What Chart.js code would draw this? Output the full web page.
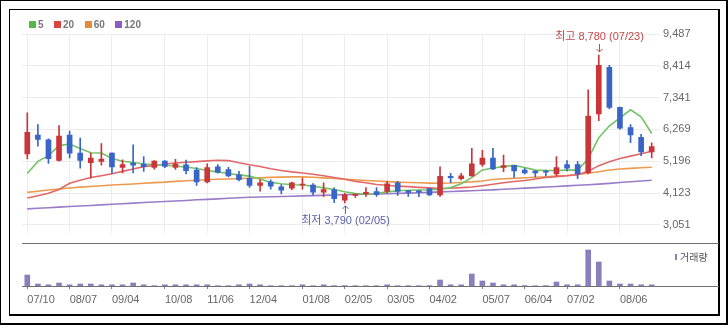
<!DOCTYPE html>
<html>
<head>
<meta charset="utf-8">
<script src="https://cdn.jsdelivr.net/npm/chart.js@4.4.1/dist/chart.umd.min.js"></script>
<style>
  body { margin: 0; background: #fff; }
  #outer { position: absolute; left: 0; top: 0; width: 728px; height: 325px; box-sizing: border-box; border: 1px solid #000; border-right-width: 2px; border-bottom-width: 2px; }
  #inner { position: absolute; left: 9px; top: 9px; width: 711px; height: 307px; box-sizing: border-box; border: 1px solid #000; border-right-width: 2px; border-bottom-width: 2px; }
  #priceBox { position: absolute; left: 10px; top: 10px; }
  #volBox { position: absolute; left: 10px; top: 243px; }
  .hline { position: absolute; left: 22px; width: 697px; height: 1px; background: #707070; }
  #legend { position: absolute; left: 29px; top: 19px; height: 11px; display: flex; align-items: center;
            font: bold 10px "Liberation Sans", Arial, sans-serif; color: #777; }
  #legend .sw { width: 7px; height: 7px; margin-right: 2px; }
  #legend .lt { margin-right: 10.5px; }
  #volLegend { position: absolute; left: 675px; top: 249px; display: flex; align-items: center;
               font: 10px "Noto Sans CJK KR", sans-serif; color: #555; }
  #volLegend .sw { width: 2px; height: 6px; background: #8a7fbd; margin-right: 3px; }
</style>
</head>
<body>
<div id="outer"></div>
<div id="inner"></div>
<div id="priceBox"><canvas id="priceChart" width="708" height="233"></canvas></div>
<div id="volBox"><canvas id="volChart" width="708" height="70"></canvas></div>
<div class="hline" style="top:243px"></div>
<div class="hline" style="top:286px"></div>
<div id="legend"></div>
<div id="volLegend"><span class="sw"></span><span>거래량</span></div>
<script>
// weekly candles, 2020/07 ~ 2021/08
const weeks = ['07/10','07/17','07/24','07/31','08/07','08/14','08/21','08/28','09/04','09/11',
  '09/18','09/25','09/29','10/08','10/16','10/23','10/30','11/06','11/13','11/20',
  '11/27','12/04','12/11','12/18','12/24','12/30','01/08','01/15','01/22','01/29',
  '02/05','02/10','02/19','02/26','03/05','03/12','03/19','03/26','04/02','04/09',
  '04/16','04/23','04/30','05/07','05/14','05/21','05/28','06/04','06/11','06/18',
  '06/25','07/02','07/09','07/16','07/23','07/30','08/06','08/13','08/20','08/27'];
const tickWeeks = ['07/10','08/07','09/04','10/08','11/06','12/04','01/08','02/05','03/05','04/02','05/07','06/04','07/02','08/06'];
const priceTicks = [3051, 4123, 5196, 6269, 7341, 8414, 9487];

const opens  = [5440,6080,5920,5220,6080,5470,5150,5190,5470,4990,5130,5100,4990,5200,4990,5070,4895,4500,5010,4915,
  4735,4620,4380,4500,4330,4285,4395,4395,4155,4230,3880,4040,4090,4170,4175,4465,4200,4195,4275,4060,
  4690,4605,4700,5090,5300,4990,5060,4895,4865,4865,4765,5080,5080,4810,6790,8360,7010,6330,6000,5510];
const highs  = [6830,6430,5950,6400,6210,5980,5470,5790,5480,5240,5750,5350,5220,5220,5260,5230,4980,5110,5080,4990,
  4855,5020,4575,4565,4410,4490,4630,4445,4465,4295,4115,4095,4305,4305,4520,4520,4210,4205,4280,5010,
  4790,4790,5630,5560,5630,5400,5060,4960,4870,4895,5350,5220,5180,7600,8780,8430,7020,6430,6100,5820];
const lows   = [5270,5700,5120,5200,5310,4960,4620,5060,4780,4800,4800,4855,4925,4980,4915,4765,4380,4465,4790,4670,
  4530,4315,4185,4250,4090,4240,4250,4060,4005,3800,3790,3975,4005,4005,4125,4040,4005,4000,4040,4005,
  4475,4565,4690,5020,4910,4845,4650,4765,4670,4700,4700,4865,4605,4765,6560,6960,6280,5820,5380,5310];
const closes = [6170,5930,5280,6040,5470,5220,5300,5270,5000,5080,5060,5010,5200,5020,5100,4875,4500,4980,4820,4700,
  4575,4380,4465,4350,4220,4465,4425,4155,4240,3930,4060,4090,4145,4070,4435,4175,4145,4150,4060,4690,
  4640,4700,5110,5300,4940,5050,4865,4800,4800,4830,4980,4960,4765,6720,8430,7010,6310,6080,5510,5690];

const ma5   = [4779,5191,5384,5722,5777,5625,5480,5474,5287,5197,5152,5101,5085,5062,5036,4998,4949,4885,4837,4779,
  4734,4692,4596,4483,4435,4402,4393,4354,4296,4242,4168,4103,4081,4103,4161,4200,4216,4225,4232,4251,
  4306,4435,4644,4901,4966,5014,5056,4982,4895,4885,4885,4895,4895,5280,5990,6390,6660,6930,6690,6130];
const ma20  = [3952,4032,4113,4242,4451,4554,4644,4708,4773,4853,4933,5014,5052,5101,5136,5159,5181,5207,5229,5217,
  5143,5078,5020,4943,4885,4837,4798,4756,4708,4644,4586,4515,4467,4412,4386,4354,4338,4315,4296,4274,
  4283,4306,4328,4370,4419,4467,4509,4547,4596,4644,4676,4708,4740,4853,5046,5175,5287,5368,5448,5529];
const ma60  = [4145,4184,4225,4258,4290,4322,4344,4370,4393,4412,4428,4451,4473,4489,4515,4538,4554,4570,4586,4596,
  4612,4621,4634,4650,4660,4666,4666,4653,4634,4612,4589,4570,4547,4531,4509,4489,4480,4467,4457,4454,
  4460,4480,4499,4531,4579,4602,4618,4637,4653,4670,4692,4715,4747,4789,4843,4901,4933,4956,4975,4991];
const ma120 = [3588,3608,3627,3646,3666,3685,3704,3723,3743,3762,3781,3801,3820,3839,3855,3871,3894,3910,3926,3945,
  3962,3978,3987,3997,4007,4016,4026,4036,4045,4055,4065,4074,4084,4094,4100,4110,4119,4132,4145,4161,
  4174,4187,4200,4216,4229,4248,4267,4287,4306,4325,4344,4364,4383,4402,4422,4447,4476,4505,4531,4554];

const volumes = [1100000,200000,120000,300000,120000,200000,200000,120000,120000,120000,300000,120000,30000,120000,120000,120000,120000,120000,30000,30000,
  120000,200000,120000,30000,30000,30000,120000,30000,120000,40000,40000,30000,30000,30000,120000,30000,30000,30000,40000,600000,
  120000,120000,1200000,500000,300000,120000,120000,40000,30000,40000,400000,120000,120000,3600000,2400000,500000,200000,200000,120000,120000];

const maNames  = ['5', '20', '60', '120'];
const maColors = ['#74c365', '#e06868', '#eb9a4f', '#9a7cc8'];
const legendColors = ['#55b949', '#d9463f', '#e48a3c', '#8c5bbf'];
const upColor = '#c9363a';
const downColor = '#3a65c8';

Chart.defaults.font.family = '"Liberation Sans", Arial, "Noto Sans CJK KR", sans-serif';
Chart.defaults.font.size = 11;
Chart.defaults.color = '#666';

const candleColors = closes.map((c, i) => c >= opens[i] ? upColor : downColor);
const isTick = (i) => tickWeeks.includes(weeks[i]);

// 최고 / 최저 표시
const markPlugin = {
    id: 'marks',
    afterDraw(chart) {
        const { ctx, scales: { x, y } } = chart;
        const hi = highs.indexOf(Math.max(...highs));
        const lo = lows.indexOf(Math.min(...lows));
        ctx.save();
        ctx.font = '11px "Liberation Sans", "Noto Sans CJK KR", sans-serif';
        ctx.textAlign = 'center';
        ctx.textBaseline = 'middle';
        ctx.lineWidth = 1;

        let px = Math.round(x.getPixelForValue(hi)) + 0.5;
        let py = y.getPixelForValue(highs[hi]);
        ctx.fillStyle = ctx.strokeStyle = '#c4484b';
        ctx.fillText('최고 ' + highs[hi].toLocaleString('en-US') + ' (' + weeks[hi] + ')', px, py - 18);
        ctx.beginPath();
        ctx.moveTo(px, py - 11); ctx.lineTo(px, py - 3);
        ctx.moveTo(px - 3, py - 6); ctx.lineTo(px, py - 3); ctx.lineTo(px + 3, py - 6);
        ctx.stroke();

        px = Math.round(x.getPixelForValue(lo)) + 0.5;
        py = y.getPixelForValue(lows[lo]);
        ctx.fillStyle = ctx.strokeStyle = '#5d60aa';
        ctx.fillText('최저 ' + lows[lo].toLocaleString('en-US') + ' (' + weeks[lo] + ')', px, py + 18);
        ctx.beginPath();
        ctx.moveTo(px, py + 3); ctx.lineTo(px, py + 11);
        ctx.moveTo(px - 3, py + 6); ctx.lineTo(px, py + 3); ctx.lineTo(px + 3, py + 6);
        ctx.stroke();
        ctx.restore();
    }
};

const maSets = [ma5, ma20, ma60, ma120].map((d, k) => ({
    type: 'line',
    label: maNames[k],
    data: d,
    borderColor: maColors[k],
    borderWidth: 1.6,
    pointRadius: 0,
    tension: 0,
    order: 3
}));

const priceChart = new Chart(document.getElementById('priceChart'), {
    type: 'bar',
    data: {
        labels: weeks,
        datasets: [
            {
                label: 'wick',
                data: lows.map((l, i) => [l, highs[i]]),
                backgroundColor: candleColors,
                barThickness: 1,
                grouped: false,
                order: 2
            },
            {
                label: 'body',
                data: opens.map((o, i) => [o, closes[i]]),
                backgroundColor: candleColors,
                barThickness: 5,
                minBarLength: 1,
                grouped: false,
                order: 1
            },
            ...maSets
        ]
    },
    options: {
        responsive: false,
        animation: false,
        layout: { padding: { left: 12, top: 24, right: 0, bottom: 0 } },
        plugins: { legend: { display: false }, tooltip: { enabled: false } },
        scales: {
            x: {
                offset: true,
                grid: {
                    offset: false,
                    drawTicks: false,
                    color: (c) => isTick(c.index) ? '#ececec' : 'rgba(0,0,0,0)'
                },
                border: { display: false },
                ticks: { display: false, autoSkip: false },
                afterFit: (s) => { s.height = 0; }
            },
            y: {
                position: 'right',
                min: 2761,
                max: 9487,
                afterBuildTicks: (axis) => { axis.ticks = priceTicks.map(v => ({ value: v })); },
                afterFit: (s) => { s.width = 61; },
                grid: { color: '#ececec', tickLength: 3 },
                border: { display: false },
                ticks: {
                    padding: 3,
                    color: '#666',
                    callback: (v) => v.toLocaleString('en-US')
                }
            }
        }
    },
    plugins: [markPlugin]
});

const volChart = new Chart(document.getElementById('volChart'), {
    type: 'bar',
    data: {
        labels: weeks,
        datasets: [{
            label: '거래량',
            data: volumes,
            backgroundColor: '#8a7fbd',
            barThickness: 5
        }]
    },
    options: {
        responsive: false,
        animation: false,
        layout: { padding: { left: 12, right: 61, top: 0, bottom: 0 } },
        plugins: { legend: { display: false }, tooltip: { enabled: false } },
        scales: {
            x: {
                offset: true,
                grid: {
                    offset: false,
                    drawOnChartArea: false,
                    tickLength: 3,
                    color: (c) => isTick(c.index) ? '#808080' : 'rgba(0,0,0,0)'
                },
                border: { display: false },
                ticks: {
                    autoSkip: false,
                    maxRotation: 0,
                    align: 'start',
                    padding: 4,
                    color: '#666',
                    callback: (v, i) => isTick(i) ? weeks[i] : ''
                },
                afterFit: (s) => { s.height = 27; }
            },
            y: { display: false, min: 0, max: 4300000 }
        }
    }
});

// legend for moving averages
document.getElementById('legend').innerHTML = maNames.map((n, k) =>
    '<span class="sw" style="background:' + legendColors[k] + '"></span><span class="lt">' + n + '</span>'
).join('');
</script>
</body>
</html>
